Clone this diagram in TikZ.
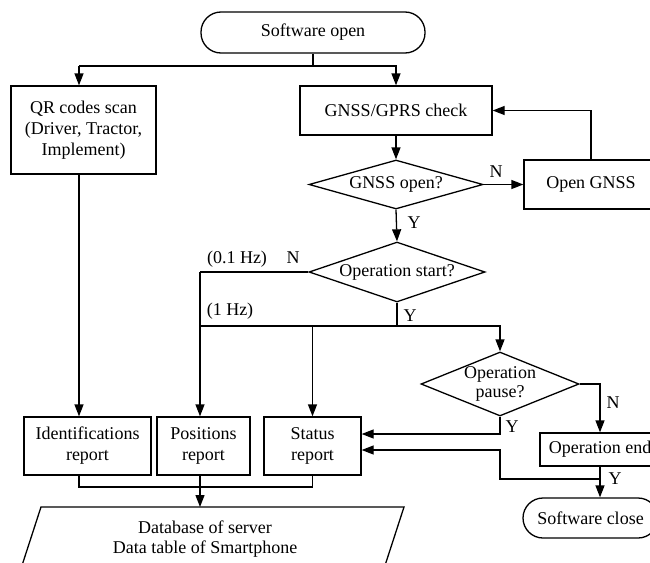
\documentclass[tikz,border=0pt]{standalone}
\usepackage{fontspec}
\setmainfont{Liberation Serif}
\usetikzlibrary{arrows.meta,shapes.geometric,calc}
\begin{document}
\begin{tikzpicture}[x=1pt,y=-1pt,
  line width=1.3pt,
  font=\fontsize{18}{21}\selectfont,
  arr/.style={-{Triangle[length=12pt,width=9pt]}},
  box/.style={draw,rectangle,inner sep=0pt,align=center},
  term/.style={draw,rectangle,rounded corners=20pt,inner sep=0pt},
  dia/.style={draw,diamond,inner sep=0pt},
  lbl/.style={inner sep=0pt}
]
\useasboundingbox (0,0) rectangle (650,562);
\clip (0,0) rectangle (650,562);

% nodes
\node[term,minimum width=224pt,minimum height=41pt] (sopen) at (313,32.5) {Software open};
\node[box,minimum width=145pt,minimum height=88pt] (qr) at (83.5,130) {QR codes scan\\(Driver, Tractor,\\Implement)};
\node[box,minimum width=192pt,minimum height=49pt] (gcheck) at (396,110.5) {GNSS/GPRS check};
\node[dia,minimum width=174pt,minimum height=49pt] (gopen) at (396,184.5) {};
\node[lbl] (gopent) at (gopen) {GNSS open?};
\node[box,minimum width=134pt,minimum height=49pt] (openg) at (591,184.5) {Open GNSS};
\node[dia,minimum width=176pt,minimum height=60pt] (ostart) at (397,272) {};
\node[lbl] (ostartt) at (ostart) {Operation start?};
\node[dia,minimum width=158pt,minimum height=64pt] (pause) at (500,384) {};
\node[lbl,align=center,font=\fontsize{18}{19}\selectfont] (pauset) at (pause) {Operation\\pause?};
\node[box,minimum width=127pt,minimum height=58pt] (ident) at (87.5,446) {Identifications\\report};
\node[box,minimum width=93pt,minimum height=58pt] (pos) at (203.5,446) {Positions\\report};
\node[box,minimum width=97pt,minimum height=58pt] (stat) at (312.5,446) {Status\\report};
\node[box,minimum width=120pt,minimum height=33pt] (opend) at (600,449.5) {Operation end};
\node[term,minimum width=135pt,minimum height=40pt] (sclose) at (590.5,518) {Software close};

% database parallelogram
\coordinate (dbtl) at (41,507);
\coordinate (dbtr) at (404,507);
\draw (dbtl) -- (dbtr) -- ($(dbtr)+(-26,80)$) -- ($(dbtl)+(-26,80)$) -- cycle;
\node[lbl,align=center,font=\fontsize{18}{20}\selectfont] (db) at (205,539) {Database of server\\Data table of Smartphone};

% helper coordinates
\coordinate (cA) at (79,66);
\coordinate (cP) at (200,272);
\coordinate (bus) at (0,326);
\coordinate (r1) at (0,434);
\coordinate (r2) at (500,479);
\coordinate (r3) at (0,450);
\coordinate (bot) at (0,487);

% connectors
\draw (sopen.south) -- (sopen.south |- cA);
\draw[arr] (cA) -- (cA |- qr.north);
\draw[arr] (cA) -| (gcheck.north);
\draw[arr] (gcheck.south) -- (gopen.north);
\draw[arr] (gopen.east) -- (openg.west);
\draw[arr] (openg.north) |- (gcheck.east);
\draw[arr] (gopen.south) -- (ostart.north);
\draw (ostart.west) -- (cP);
\draw[arr] (cP) -- (cP |- pos.north);
\draw (ostart.south) -- (ostart.south |- bus);
\draw[arr] (cP |- bus) -| (pause.north);
\draw[arr] (stat.north |- bus) -- (stat.north);
\draw[arr] (pause.east) -| (opend.north);
\draw[arr] (pause.south) -- (pause.south |- r1) -- (stat.east |- r1);
\draw[arr] (opend.south) -- (opend.south |- sclose.north);
\draw[arr] (opend.south |- r2) -- (r2) -- (r2 |- r3) -- (stat.east |- r3);
\draw[arr] (qr.south -| cA) -- (ident.north -| cA);
\draw (ident.south -| cA) -- (cA |- bot) -- (stat.south |- bot) -- (stat.south);
\draw[arr] (pos.south -| cP) -- (dbtl -| cP);

% labels
\node[lbl] (n1) at (496,172) {N};
\node[lbl] (y1) at (414,223) {Y};
\node[lbl] (hz01) at (237,259) {(0.1 Hz)};
\node[lbl] (n2) at (293,258) {N};
\node[lbl] (hz1) at (230,311) {(1 Hz)};
\node[lbl] (y2) at (410,316) {Y};
\node[lbl] (n3) at (613,403) {N};
\node[lbl] (y3) at (512,427) {Y};
\node[lbl] (y4) at (615,479) {Y};
\end{tikzpicture}
\end{document}
